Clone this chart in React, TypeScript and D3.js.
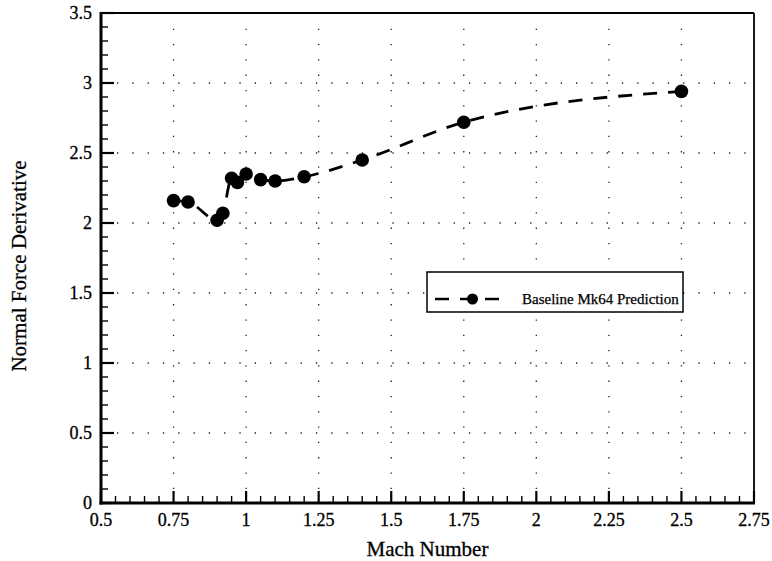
import React from "react";
import * as d3 from "d3";

const machNumbers = [0.75, 0.8, 0.9, 0.92, 0.95, 0.97, 1.0, 1.05, 1.1, 1.2, 1.4, 1.75, 2.5];
const normalForce = [2.16, 2.15, 2.02, 2.07, 2.32, 2.29, 2.35, 2.31, 2.3, 2.33, 2.45, 2.72, 2.94];
const xTicks = [0.5, 0.75, 1, 1.25, 1.5, 1.75, 2, 2.25, 2.5, 2.75];
const xTickLabels = ["0.5", "0.75", "1", "1.25", "1.5", "1.75", "2", "2.25", "2.5", "2.75"];
const yTicks = [0, 0.5, 1, 1.5, 2, 2.5, 3, 3.5];
const yTickLabels = ["0", "0.5", "1", "1.5", "2", "2.5", "3", "3.5"];
const seriesName = "Baseline Mk64 Prediction";

const W = 772, H = 561;
const L = 101, R = 754, T = 13, B = 503;
const FONT = "'Liberation Serif', 'Times New Roman', serif";

export default function App() {
  const x = d3.scaleLinear().domain([0.5, 2.75]).range([L, R]);
  const y = d3.scaleLinear().domain([0, 3.5]).range([B, T]);
  const data = machNumbers.map((m, i) => [m, normalForce[i]] as [number, number]);
  const line = d3.line<[number, number]>().x(d => x(d[0])).y(d => y(d[1])).curve(d3.curveMonotoneX);

  const xMinor = d3.range(0, 46).map(i => 0.5 + i * 0.05).filter(v => Math.abs(v * 4 - Math.round(v * 4)) > 1e-6);
  const yMinor = d3.range(0, 36).map(i => i * 0.1).filter(v => Math.abs(v * 2 - Math.round(v * 2)) > 1e-6);

  return (
    <svg width={W} height={H} style={{ position: "absolute", left: 0, top: 0, background: "#fff" }} fontFamily={FONT}>
      {/* grid */}
      <g stroke="#222" strokeWidth={1.3} strokeDasharray="1.3,14">
        {xTicks.slice(1, -1).map(v => (
          <line key={"gx" + v} x1={x(v)} x2={x(v)} y1={B - 14} y2={T + 4} />
        ))}
        {yTicks.slice(1, -1).map(v => (
          <line key={"gy" + v} x1={L + 16} x2={R - 4} y1={y(v)} y2={y(v)} />
        ))}
      </g>
      {/* frame */}
      <line x1={L} x2={R} y1={T} y2={T} stroke="#000" strokeWidth={1.8} />
      <line x1={R} x2={R} y1={T} y2={B} stroke="#000" strokeWidth={1.8} />
      <line x1={L} x2={L} y1={T - 1} y2={B + 1.5} stroke="#000" strokeWidth={3} />
      <line x1={L - 1.5} x2={R + 1} y1={B} y2={B} stroke="#000" strokeWidth={3} />
      {/* x ticks */}
      {xTicks.map(v => (
        <line key={"xt" + v} x1={x(v)} x2={x(v)} y1={B} y2={B - 12} stroke="#000" strokeWidth={2.2} />
      ))}
      {xMinor.map(v => (
        <line key={"xm" + v} x1={x(v)} x2={x(v)} y1={B} y2={B - 7} stroke="#000" strokeWidth={1.4} />
      ))}
      {/* y ticks */}
      {yTicks.map(v => (
        <line key={"yt" + v} x1={L} x2={L + 13} y1={y(v)} y2={y(v)} stroke="#000" strokeWidth={2.2} />
      ))}
      {yMinor.map(v => (
        <line key={"ym" + v} x1={L} x2={L + 7} y1={y(v)} y2={y(v)} stroke="#000" strokeWidth={1.4} />
      ))}
      {/* tick labels */}
      <g fill="#000" stroke="#000" strokeWidth={0.3}>
        {xTicks.map((v, i) => (
          <text key={"xl" + v} x={x(v)} y={525.5} textAnchor="middle" fontSize={18}>{xTickLabels[i]}</text>
        ))}
        {yTicks.map((v, i) => (
          <text key={"yl" + v} x={92} y={y(v)} dy="0.35em" textAnchor="end" fontSize={18}>{yTickLabels[i]}</text>
        ))}
        {/* axis titles */}
        <text x={(L + R) / 2} y={556} textAnchor="middle" fontSize={21}>Mach Number</text>
        <text transform={`translate(26,${(T + B) / 2 + 8}) rotate(-90)`} textAnchor="middle" fontSize={21}>Normal Force Derivative</text>
      </g>
      {/* series */}
      <path d={line(data) || ""} fill="none" stroke="#000" strokeWidth={2.8} strokeDasharray="14,11" />
      {data.map((d, i) => (
        <circle key={"p" + i} cx={x(d[0])} cy={y(d[1])} r={6.8} fill="#000" />
      ))}
      {/* legend */}
      <rect x={427} y={272} width={256} height={40} fill="#fff" stroke="#000" strokeWidth={1.5} />
      <line x1={435} x2={500} y1={299} y2={299} stroke="#000" strokeWidth={2.5} strokeDasharray="14,11" />
      <circle cx={472.5} cy={299} r={5.5} fill="#000" />
      <text x={522} y={304} fontSize={15} fill="#000" stroke="#000" strokeWidth={0.25}>{seriesName}</text>
    </svg>
  );
}
